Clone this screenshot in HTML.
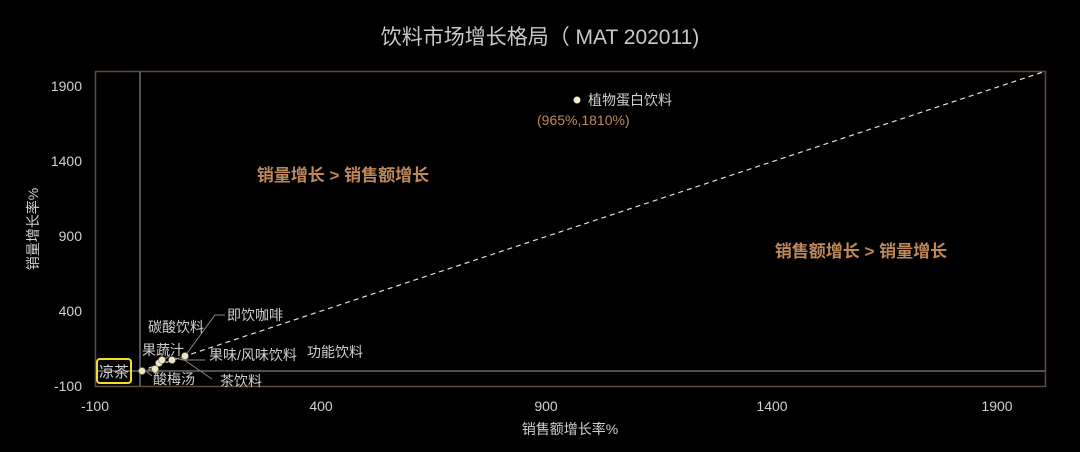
<!DOCTYPE html>
<html><head><meta charset="utf-8"><style>
html,body{margin:0;padding:0;background:#000;}
svg{display:block;}
text{font-family:"Liberation Sans","Noto Sans CJK SC",sans-serif;}
</style></head><body>
<svg width="1080" height="452" viewBox="0 0 1080 452" xmlns="http://www.w3.org/2000/svg">
<rect width="1080" height="452" fill="#000"/>
<text x="540" y="44" text-anchor="middle" font-size="21" fill="#c8c8c8">饮料市场增长格局（ MAT 202011)</text>
<rect x="95.5" y="71.5" width="950" height="315" fill="none" stroke="#5e4c3a" stroke-width="1.5"/>
<line x1="140" y1="72" x2="140" y2="386" stroke="#a0a0a0" stroke-width="1"/>
<line x1="96" y1="371" x2="1045" y2="371" stroke="#a0a0a0" stroke-width="1"/>
<line x1="140" y1="371" x2="1043" y2="72" stroke="#e8e0c0" stroke-width="1.2" stroke-dasharray="5,4"/>
<g font-size="14" fill="#d0d0d0" text-anchor="end">
<text x="82" y="91">1900</text><text x="82" y="166">1400</text><text x="82" y="241">900</text><text x="82" y="316">400</text><text x="82" y="391">-100</text>
</g>
<g font-size="14" fill="#d0d0d0" text-anchor="middle">
<text x="95" y="411">-100</text><text x="321" y="411">400</text><text x="546" y="411">900</text><text x="772" y="411">1400</text><text x="997" y="411">1900</text>
</g>
<text x="570" y="434" text-anchor="middle" font-size="14" fill="#d0d0d0">销售额增长率%</text>
<text transform="translate(38,229) rotate(-90)" text-anchor="middle" font-size="14" fill="#d0d0d0">销量增长率%</text>
<text x="343" y="181" text-anchor="middle" font-size="17" font-weight="bold" fill="#c0895a">销量增长 &gt; 销售额增长</text>
<text x="861" y="257" text-anchor="middle" font-size="17" font-weight="bold" fill="#c0895a">销售额增长 &gt; 销量增长</text>
<circle cx="577" cy="100" r="3.5" fill="#f5ecc8"/>
<text x="588" y="105" font-size="14" fill="#d0d0d0">植物蛋白饮料</text>
<text x="537" y="125" font-size="14" fill="#c0895a">(965%,1810%)</text>
<g stroke="#888" stroke-width="1" fill="none">
<polyline points="185,356 215,315 225,315"/>
<polyline points="175,358 183,360 205,360"/>
<polyline points="162,360 170,356"/>
<polyline points="155,368 148,370"/>
<polyline points="180,357 212,379"/>
<polyline points="147,372 152,376"/>
</g>
<g fill="#f0e6c0" stroke="#777" stroke-width="0.6">
<circle cx="142" cy="371" r="3.5"/>
<circle cx="155" cy="369" r="3.5"/>
<circle cx="159" cy="363" r="3.5"/>
<circle cx="162" cy="360" r="3.5"/>
<circle cx="172" cy="360" r="3.5"/>
<circle cx="185" cy="356" r="3.5"/>
</g>
<g font-size="14" fill="#d0d0d0">
<text x="227" y="320">即饮咖啡</text>
<text x="148" y="332">碳酸饮料</text>
<text x="142" y="355">果蔬汁</text>
<text x="209" y="360">果味/风味饮料</text>
<text x="307" y="357">功能饮料</text>
<text x="153" y="384">酸梅汤</text>
<text x="220" y="386">茶饮料</text>
</g>
<rect x="97" y="359" width="34" height="24" rx="3" fill="none" stroke="#f0e020" stroke-width="2"/>
<text x="114" y="377" text-anchor="middle" font-size="15" fill="#d0d0d0">凉茶</text>
</svg>
</body></html>
